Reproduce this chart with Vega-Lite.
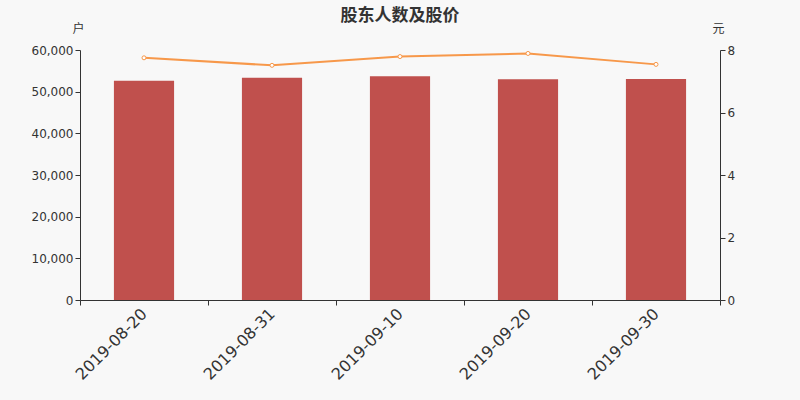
{
  "$schema": "https://vega.github.io/schema/vega-lite/v6.json",
  "autosize": {"type": "none"},
  "width": 640,
  "height": 250,
  "padding": {"left": 80, "top": 50, "right": 80, "bottom": 100},
  "background": "#f8f8f8",
  "title": {
    "text": "股东人数及股价",
    "fontSize": 17,
    "fontWeight": "bold",
    "color": "#333333",
    "font": "Noto Sans CJK SC",
    "anchor": "middle",
    "offset": -3
  },
  "config": {
    "view": {"stroke": null},
    "axis": {
      "domainColor": "#333333",
      "tickColor": "#333333",
      "labelColor": "#333333",
      "titleColor": "#333333",
      "labelFont": "DejaVu Sans",
      "titleFont": "Noto Sans CJK SC",
      "grid": false
    }
  },
  "data": {
    "values": [
      {"date": "2019-08-20", "holders": 52630, "price": 7.75},
      {"date": "2019-08-31", "holders": 53360, "price": 7.51},
      {"date": "2019-09-10", "holders": 53680, "price": 7.79},
      {"date": "2019-09-20", "holders": 52960, "price": 7.89},
      {"date": "2019-09-30", "holders": 53040, "price": 7.54}
    ]
  },
  "encoding": {
    "x": {
      "field": "date",
      "type": "nominal",
      "sort": null,
      "scale": {"paddingInner": 0, "paddingOuter": 0},
      "axis": {
        "title": null,
        "labelAngle": -45,
        "labelFontSize": 16,
        "labelAlign": "right",
        "labelBaseline": "middle",
        "tickBand": "extent",
        "tickSize": 5,
        "labelPadding": 6
      }
    }
  },
  "layer": [
    {
      "mark": {"type": "bar", "color": "#c0504d", "width": {"band": 0.47}},
      "encoding": {
        "y": {
          "field": "holders",
          "type": "quantitative",
          "scale": {"domain": [0, 60000]},
          "axis": {
            "title": "户",
            "titleAngle": 0,
            "titleX": -2,
            "titleY": -15,
            "titleAlign": "center",
            "titleFontSize": 12,
            "titleFontWeight": "normal",
            "tickCount": 6,
            "format": ",.0f",
            "labelFontSize": 12,
            "tickSize": 5
          }
        }
      }
    },
    {
      "mark": {
        "type": "line",
        "color": "#f7984a",
        "strokeWidth": 2,
        "point": {"filled": false, "fill": "#ffffff", "stroke": "#f7984a", "size": 16, "strokeWidth": 1}
      },
      "encoding": {
        "y": {
          "field": "price",
          "type": "quantitative",
          "scale": {"domain": [0, 8]},
          "axis": {
            "orient": "right",
            "title": "元",
            "titleAngle": 0,
            "titleX": -2,
            "titleY": -15,
            "titleAlign": "center",
            "titleFontSize": 12,
            "titleFontWeight": "normal",
            "tickCount": 4,
            "labelFontSize": 12,
            "tickSize": 5
          }
        }
      }
    }
  ],
  "resolve": {"scale": {"y": "independent"}}
}
